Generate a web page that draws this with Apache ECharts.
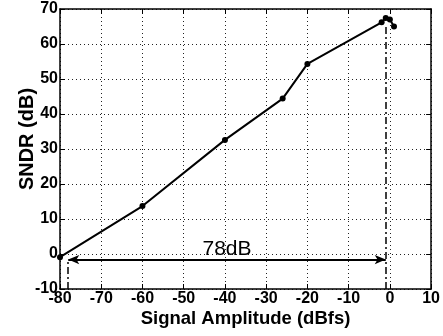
<!DOCTYPE html>
<html>
<head>
<meta charset="utf-8">
<script src="https://cdn.jsdelivr.net/npm/echarts@6/dist/echarts.min.js"></script>
<style>
  html, body { margin: 0; padding: 0; background: #fff; }
  #main { width: 443px; height: 336px; }
</style>
</head>
<body>
<div id="main"></div>
<script>
const amplitude = [-80, -60, -40, -26, -20, -2, -1, 0, 1];
const sndr = [-0.9, 13.7, 32.6, 44.4, 54.3, 66.2, 67.4, 67.0, 65.0];

// dynamic range marker
const rangeLeft = -78;
const rangeRight = -1;
const rangeLevel = -1.6;
const rangeLabel = "78dB";
const peakSndr = 67.4;

const FONT = "Liberation Sans, Arial, sans-serif";

//Build the series points.
let points = [];
for (let i = 0; i < amplitude.length; i++){
    points.push([amplitude[i], sndr[i]]);
}

let chart = echarts.init(document.getElementById("main"), null, {renderer: "canvas"});

//Common settings for the frame axes.
function frameAxis(extra){
    let a = {
        type: "value",
        axisLine: {show: true, onZero: false, lineStyle: {color: "#000", width: 1.5}},
        axisTick: {show: true, inside: true, length: 5, lineStyle: {color: "#000", width: 1}},
        axisLabel: {show: false},
        splitLine: {show: false}
    };
    return Object.assign(a, extra);
}

chart.setOption({
    animation: false,
    backgroundColor: "#fff",
    grid: {left: 60, right: 11, top: 9, bottom: 47, containLabel: false},
    xAxis: [
        frameAxis({
            min: -80, max: 10, interval: 10,
            position: "bottom",
            name: "Signal Amplitude (dBfs)",
            nameLocation: "middle",
            nameGap: 20,
            nameMoveOverlap: false,
            nameTextStyle: {fontFamily: FONT, fontWeight: "bold", fontSize: 18.5, color: "#000"},
            axisLabel: {show: true, margin: 2, fontFamily: FONT, fontWeight: "bold", fontSize: 16, color: "#000"},
            splitLine: {show: true, lineStyle: {color: "#222", width: 1, type: [1, 3]}}
        }),
        frameAxis({min: -80, max: 10, interval: 10, position: "top"})
    ],
    yAxis: [
        frameAxis({
            min: -10, max: 70, interval: 10,
            position: "left",
            axisLabel: {show: true, margin: 2, fontFamily: FONT, fontWeight: "bold", fontSize: 16, color: "#000"},
            splitLine: {show: true, lineStyle: {color: "#222", width: 1, type: [1, 3]}}
        }),
        frameAxis({min: -10, max: 70, interval: 10, position: "right"})
    ],
    graphic: [{
        type: "text",
        x: 27, y: 139,
        rotation: Math.PI / 2,
        style: {
            text: "SNDR (dB)",
            fontFamily: FONT, fontWeight: "bold", fontSize: 20, fill: "#000",
            align: "center", verticalAlign: "middle"
        }
    }],
    series: [{
        type: "line",
        data: points,
        symbol: "circle",
        symbolSize: 6,
        itemStyle: {color: "#000"},
        lineStyle: {color: "#000", width: 2},
        z: 5,
        markLine: {
            silent: true,
            symbol: ["none", "none"],
            animation: false,
            data: [
                [
                    {coord: [rangeLeft, rangeLevel], symbol: "arrow", symbolSize: [7, 11],
                     lineStyle: {color: "#000", width: 2, type: "solid"},
                     label: {show: true, position: "middle", formatter: rangeLabel, distance: 0,
                             fontFamily: FONT, fontSize: 21, color: "#000"}},
                    {coord: [rangeRight, rangeLevel], symbol: "arrow", symbolSize: [7, 11]}
                ],
                [
                    {coord: [rangeLeft, -10], lineStyle: {color: "#000", width: 1.5, type: [7, 3, 2, 3]}, label: {show: false}},
                    {coord: [rangeLeft, rangeLevel]}
                ],
                [
                    {coord: [rangeRight, -10], lineStyle: {color: "#000", width: 1.5, type: [7, 3, 2, 3]}, label: {show: false}},
                    {coord: [rangeRight, peakSndr - 2]}
                ]
            ]
        }
    }]
});
</script>
</body>
</html>
